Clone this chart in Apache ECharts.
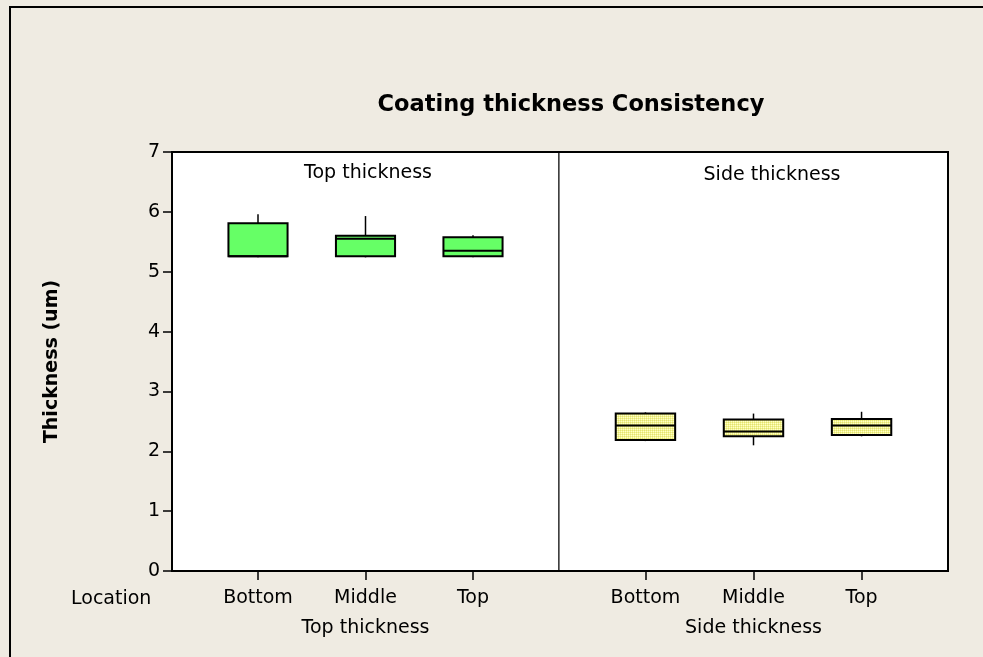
<!DOCTYPE html>
<html><head><meta charset="utf-8">
<script src="https://cdn.jsdelivr.net/npm/echarts@6/dist/echarts.min.js"></script>
<style>
html,body{margin:0;padding:0;background:#efebe2;overflow:hidden;}
#c{position:absolute;left:0;top:0;width:983px;height:657px;}
#frame{position:absolute;left:9px;top:6px;width:1100px;height:800px;border-left:2px solid #000;border-top:2px solid #000;pointer-events:none;}
</style></head><body>
<div id="c"></div><div id="frame"></div>
<script>
// ---- data ----
const categories = ['Bottom', 'Middle', 'Top'];
const panels = ['Top thickness', 'Side thickness'];
const chartTitle = 'Coating thickness Consistency';
const yAxisTitle = 'Thickness (um)';
const groupLabel = 'Location';
// [min, Q1, median, Q3, max]
const topThickness = [
  [5.24, 5.26, 5.26, 5.81, 5.96],
  [5.24, 5.26, 5.55, 5.60, 5.93],
  [5.24, 5.26, 5.35, 5.575, 5.61]
];
const sideThickness = [
  [2.17, 2.19, 2.43, 2.63, 2.65],
  [2.10, 2.25, 2.33, 2.53, 2.63],
  [2.25, 2.27, 2.43, 2.54, 2.66]
];

const F = 'DejaVu Sans';
const chart = echarts.init(document.getElementById('c'), null, {renderer: 'canvas'});

// checkered yellow texture
const pc = document.createElement('canvas');
pc.width = 2; pc.height = 2;
const pctx = pc.getContext('2d');
pctx.fillStyle = '#f3f391'; pctx.fillRect(0, 0, 2, 2);
pctx.fillStyle = '#e2e270'; pctx.fillRect(0, 0, 1, 1);
pctx.fillStyle = '#ffffc8'; pctx.fillRect(1, 1, 1, 1);
const pattern = {image: pc, repeat: 'repeat'};

function renderBox(params, api) {
  const x = api.value(0);
  const pMin = api.coord([x, api.value(1)]);
  const pQ1 = api.coord([x, api.value(2)]);
  const pMed = api.coord([x, api.value(3)]);
  const pQ3 = api.coord([x, api.value(4)]);
  const pMax = api.coord([x, api.value(5)]);
  const w = api.size([0.55, 0])[0];
  const cx = pMin[0];
  const fill = params.seriesIndex === 0 ? '#66ff66' : pattern;
  return {type: 'group', children: [
    {type: 'line', shape: {x1: cx, y1: pQ3[1], x2: cx, y2: pMax[1]}, style: {stroke: '#000', lineWidth: 1.5}},
    {type: 'line', shape: {x1: cx, y1: pQ1[1], x2: cx, y2: pMin[1]}, style: {stroke: '#000', lineWidth: 1.5}},
    {type: 'rect', shape: {x: cx - w / 2, y: pQ3[1], width: w, height: pQ1[1] - pQ3[1]}, style: {fill: fill, stroke: '#000', lineWidth: 2}},
    {type: 'line', shape: {x1: cx - w / 2, y1: pMed[1], x2: cx + w / 2, y2: pMed[1]}, style: {stroke: '#000', lineWidth: 2}}
  ]};
}

const txt = {color: '#000', fontFamily: F, fontSize: 19, fontWeight: 'normal'};

const xAxes = [0, 1].map(i => ({
  type: 'value', gridIndex: i, min: 0.2, max: 3.8,
  splitLine: {show: false},
  axisLine: {show: true, lineStyle: {color: '#000', width: 2}},
  axisTick: {show: true, customValues: [1, 2, 3], length: 9, inside: false, lineStyle: {color: '#000', width: 1.5}},
  axisLabel: {customValues: [1, 2, 3], formatter: v => categories[Math.round(v) - 1], margin: 18, ...txt},
  name: panels[i], nameLocation: 'middle', nameGap: 48, nameTextStyle: txt
}));
xAxes.push({type: 'value', gridIndex: 2, show: false, min: 0, max: 1});

const yAxes = [
  {type: 'value', gridIndex: 0, min: 0, max: 7, interval: 1,
   splitLine: {show: false},
   axisLine: {show: true, lineStyle: {color: '#000', width: 2}},
   axisTick: {show: true, length: 9, lineStyle: {color: '#000', width: 1.5}},
   axisLabel: {margin: 12, ...txt},
   name: yAxisTitle, nameLocation: 'middle', nameGap: 110,
   nameTextStyle: {color: '#000', fontFamily: F, fontSize: 19, fontWeight: 'bold'}},
  {type: 'value', gridIndex: 1, min: 0, max: 7, interval: 1, show: false},
  {type: 'value', gridIndex: 2, min: 0, max: 1, show: false}
];

chart.setOption({
  backgroundColor: 'transparent',
  animation: false,
  title: [
    {text: chartTitle, left: 566, top: 89, textAlign: 'center',
     textStyle: {color: '#000', fontFamily: F, fontSize: 22.5, fontWeight: 'bold'}},
    {text: panels[0], left: 363, top: 159, textAlign: 'center', textStyle: txt},
    {text: panels[1], left: 767, top: 161, textAlign: 'center', textStyle: txt},
    {text: groupLabel, left: 66, top: 585, textStyle: txt}
  ],
  grid: [
    {left: 172, top: 152, width: 387, height: 419, show: true, backgroundColor: '#fff', borderColor: '#000', borderWidth: 1, containLabel: false},
    {left: 559, top: 152, width: 389, height: 419, show: true, backgroundColor: '#fff', borderColor: '#000', borderWidth: 1, containLabel: false},
    {left: 172, top: 152, width: 776, height: 419, show: true, backgroundColor: 'transparent', borderColor: '#000', borderWidth: 2, z: 3}
  ],
  xAxis: xAxes,
  yAxis: yAxes,
  series: [
    {type: 'custom', xAxisIndex: 0, yAxisIndex: 0, renderItem: renderBox,
     encode: {x: 0, y: [1, 2, 3, 4, 5]},
     data: topThickness.map((d, i) => [i + 1, ...d])},
    {type: 'custom', xAxisIndex: 1, yAxisIndex: 1, renderItem: renderBox,
     encode: {x: 0, y: [1, 2, 3, 4, 5]},
     data: sideThickness.map((d, i) => [i + 1, ...d])}
  ]
});
</script>
</body></html>
